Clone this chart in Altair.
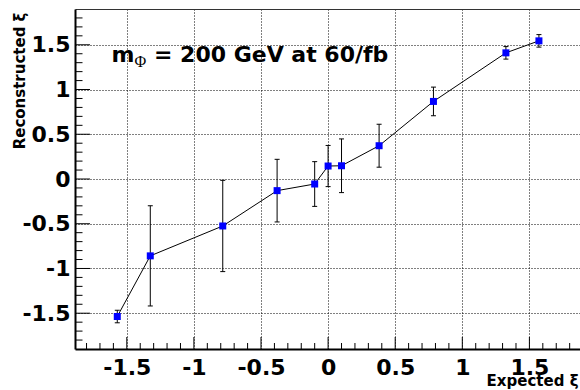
import altair as alt
import pandas as pd

# ---- data ----
expected = [-1.571, -1.325, -0.785, -0.38, -0.1, 0.0, 0.1, 0.38, 0.785, 1.325, 1.571]
reconstructed = [-1.537, -0.859, -0.525, -0.13, -0.056, 0.145, 0.148, 0.372, 0.867, 1.41, 1.544]
errors = [0.07, 0.56, 0.51, 0.35, 0.25, 0.23, 0.30, 0.24, 0.16, 0.07, 0.07]

major_ticks = [-1.5, -1.0, -0.5, 0.0, 0.5, 1.0, 1.5]
x_minor = [v / 10 for v in range(-18, 19) if v % 5 != 0]
y_minor = [v / 10 for v in range(-18, 19) if v % 5 != 0]

label_main = ["m"]
label_sub = ["\u03a6"]
label_rest = ["= 200 GeV at 60/fb"]
x_title = "Expected \u03be"
y_title = "Reconstructed \u03be"

W, H = 505, 340
FONT = "DejaVu Sans"

df = pd.DataFrame({"x": expected, "y": reconstructed, "err": errors})
df["lo"] = df["y"] - df["err"]
df["hi"] = df["y"] + df["err"]

xs = alt.Scale(domain=[-1.886, 1.877], nice=False, zero=False)
ys = alt.Scale(domain=[-1.9, 1.9], nice=False, zero=False)

lab_expr = "replace(format(datum.value, '~g'), '\u2212', '-')"

x_axis = alt.Axis(
    orient="bottom", values=major_ticks, grid=True, gridDash=[1, 2],
    gridColor="#000", gridWidth=1, gridOpacity=1, domainColor="#000",
    domainWidth=2, ticks=False, labelFont=FONT, labelFontWeight="bold",
    labelFontSize=22, labelColor="#000", labelPadding=8, labelExpr=lab_expr,
    labelOverlap=False, labelFlush=False, title=x_title, titleFont=FONT,
    titleFontSize=15, titleFontWeight="bold", titleColor="#000",
    titleX=503, titleY=36, titleAlign="right", titleBaseline="alphabetic",
)
y_axis = alt.Axis(
    orient="left", values=major_ticks, grid=True, gridDash=[1, 2],
    gridColor="#000", gridWidth=1, gridOpacity=1, domainColor="#000",
    domainWidth=2, ticks=False, labelFont=FONT, labelFontWeight="bold",
    labelFontSize=22, labelColor="#000", labelPadding=5, labelExpr=lab_expr,
    labelOverlap=False, labelFlush=False, title=y_title, titleFont=FONT,
    titleFontSize=15, titleFontWeight="bold", titleColor="#000",
    titleAngle=270, titleX=-56, titleY=3, titleAlign="right",
    titleBaseline="middle",
)
top_axis = alt.Axis(orient="top", labels=False, ticks=False, grid=False,
                    domain=True, domainColor="#333", domainWidth=1, title=None)

base = alt.Chart(df)

grid_layer = base.mark_point(opacity=0).encode(
    x=alt.X("x:Q", scale=xs, axis=x_axis),
    y=alt.Y("y:Q", scale=ys, axis=y_axis),
)

line = base.mark_line(color="#000", strokeWidth=1).encode(
    x=alt.X("x:Q", scale=xs, axis=None),
    y=alt.Y("y:Q", scale=ys, axis=None),
    order="x:Q",
)

bars = base.mark_rule(color="#000", strokeWidth=1).encode(
    x=alt.X("x:Q", scale=xs, axis=None),
    y=alt.Y("lo:Q", scale=ys, axis=None),
    y2="hi:Q",
)
cap_lo = base.mark_tick(orient="horizontal", size=5, thickness=1, color="#000", opacity=1).encode(
    x=alt.X("x:Q", scale=xs, axis=None),
    y=alt.Y("lo:Q", scale=ys, axis=None),
)
cap_hi = base.mark_tick(orient="horizontal", size=5, thickness=1, color="#000", opacity=1).encode(
    x=alt.X("x:Q", scale=xs, axis=None),
    y=alt.Y("hi:Q", scale=ys, axis=None),
)

points = base.mark_square(size=49, color="#0000ff", opacity=1, filled=True).encode(
    x=alt.X("x:Q", scale=xs, axis=None),
    y=alt.Y("y:Q", scale=ys, axis=None),
)

xmaj = alt.Chart(pd.DataFrame({"v": major_ticks})).mark_rule(color="#000", strokeWidth=1).encode(
    x=alt.X("v:Q", scale=xs, axis=top_axis), y=alt.value(H - 12), y2=alt.value(H))
xmin = alt.Chart(pd.DataFrame({"v": x_minor})).mark_rule(color="#000", strokeWidth=1).encode(
    x=alt.X("v:Q", scale=xs, axis=None), y=alt.value(H - 6), y2=alt.value(H))
ymaj = alt.Chart(pd.DataFrame({"v": major_ticks})).mark_rule(color="#000", strokeWidth=1).encode(
    y=alt.Y("v:Q", scale=ys, axis=None), x=alt.value(0), x2=alt.value(15))
ymin = alt.Chart(pd.DataFrame({"v": y_minor})).mark_rule(color="#000", strokeWidth=1).encode(
    y=alt.Y("v:Q", scale=ys, axis=None), x=alt.value(0), x2=alt.value(7.5))

t1 = alt.Chart(pd.DataFrame({"t": label_main})).mark_text(
    font=FONT, fontWeight="bold", fontSize=22, align="left", baseline="alphabetic", color="#000"
).encode(text="t:N", x=alt.value(36.5), y=alt.value(53.3))
t2 = alt.Chart(pd.DataFrame({"t": label_sub})).mark_text(
    font="Liberation Serif", fontSize=16, align="left", baseline="alphabetic", color="#000"
).encode(text="t:N", x=alt.value(59.5), y=alt.value(58))
t3 = alt.Chart(pd.DataFrame({"t": label_rest})).mark_text(
    font=FONT, fontWeight="bold", fontSize=22, align="left", baseline="alphabetic", color="#000"
).encode(text="t:N", x=alt.value(79), y=alt.value(53.3))

chart = alt.layer(
    grid_layer, xmaj, xmin, ymaj, ymin, line, bars, cap_lo, cap_hi, points, t1, t2, t3
).resolve_axis(x="independent", y="independent").properties(
    width=W, height=H,
    autosize=alt.AutoSizeParams(type="none"),
    padding={"left": 75, "top": 9, "right": 0, "bottom": 41},
    background="white",
).configure_view(stroke=None)

chart.save("out.html", embed_options={"renderer": "svg", "actions": False})
